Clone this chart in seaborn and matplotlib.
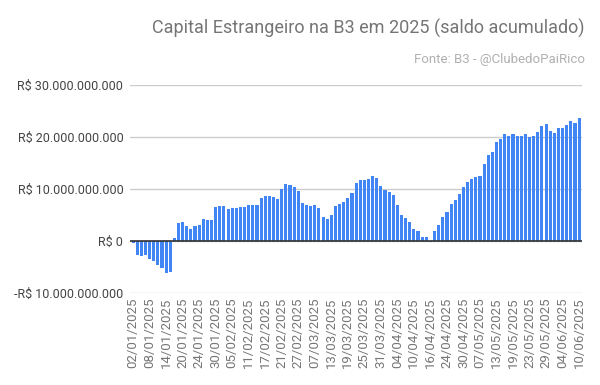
import numpy as np
import pandas as pd
import matplotlib
matplotlib.use("Agg")
import matplotlib.pyplot as plt
import seaborn as sns
from matplotlib.ticker import FuncFormatter

# B3 trading days (02/01/2025 .. 10/06/2025)
holidays = ["2025-03-03", "2025-03-04", "2025-04-18", "2025-04-21", "2025-05-01"]
days = pd.bdate_range("2025-01-02", "2025-06-10", freq="C", holidays=holidays)
dates = [d.strftime("%d/%m/%Y") for d in days]

# accumulated balance, in billions of R$
saldo_bi = [
    -0.45, -2.6, -2.9, -2.6, -3.4, -3.8, -4.7, -5.1, -6.2, -5.9,
    0.5, 3.4, 3.6, 2.8, 2.4, 2.8, 3.0, 4.2, 4.0, 4.0,
    6.5, 6.7, 6.7, 6.1, 6.3, 6.3, 6.5, 6.5, 6.9, 6.9,
    6.9, 8.2, 8.6, 8.6, 8.4, 8.0, 10.1, 10.9, 10.7, 10.3,
    9.6, 7.4, 6.9, 6.7, 6.9, 6.3, 4.7, 4.2, 5.1, 6.7,
    7.2, 7.6, 8.2, 9.2, 11.1, 11.7, 11.7, 11.9, 12.6, 12.2,
    10.5, 9.9, 9.4, 8.8, 6.9, 5.1, 4.4, 3.6, 2.4, 1.9,
    0.7, 0.7, -0.25, 1.9, 3.0, 4.7, 5.5, 7.2, 7.8, 9.0,
    10.3, 11.3, 11.9, 12.4, 12.6, 14.9, 16.5, 17.1, 19.0, 19.7,
    20.5, 20.3, 20.5, 20.3, 20.3, 20.5, 20.1, 20.3, 20.9, 22.1,
    22.6, 21.1, 20.7, 21.7, 21.7, 22.4, 23.0, 22.8, 23.6,
]
saldo = [v * 1e9 for v in saldo_bi]

df = pd.DataFrame({"data": dates, "saldo": saldo})

sns.set_theme(style="white")
plt.rcParams["font.family"] = ["Roboto", "DejaVu Sans"]

fig = plt.figure(figsize=(6.0, 3.85), dpi=100)
ax = fig.add_axes([0.217, 0.239, 0.753, 0.540])

sns.barplot(data=df, x="data", y="saldo", color="#4285F4", saturation=1,
            width=0.75, linewidth=0, edgecolor="none", ax=ax, order=dates)

ax.set_ylim(-10e9, 30e9)
ax.set_yticks([-10e9, 0, 10e9, 20e9, 30e9])

def fmt(v, pos):
    s = f"{abs(v):,.0f}".replace(",", ".")
    return ("-R$ " if v < 0 else "R$ ") + s

ax.yaxis.set_major_formatter(FuncFormatter(fmt))
ax.grid(axis="y", color="#cccccc", linewidth=1)
ax.set_axisbelow(True)
ax.axhline(0, color="#333333", linewidth=1.2, zorder=1)

tick_idx = list(range(0, len(dates), 4))
ax.set_xticks(tick_idx)
ax.set_xticklabels([dates[i] for i in tick_idx], rotation=90, fontsize=9.5,
                   color="#777777")
ax.set_xlim(-0.7, len(dates) - 0.3)
ax.tick_params(axis="y", labelsize=9, labelcolor="#444444", length=0, pad=5)
ax.tick_params(axis="x", length=0, pad=3)
for s in ax.spines.values():
    s.set_visible(False)
ax.set_xlabel("")
ax.set_ylabel("")

fig.text(0.975, 0.925, "Capital Estrangeiro na B3 em 2025 (saldo acumulado)",
         ha="right", va="center", fontsize=13, color="#757575")
fig.text(0.975, 0.845, "Fonte: B3 - @ClubedoPaiRico",
         ha="right", va="center", fontsize=9.5, color="#b0b0b0")

fig.savefig("out.png", dpi=100)
